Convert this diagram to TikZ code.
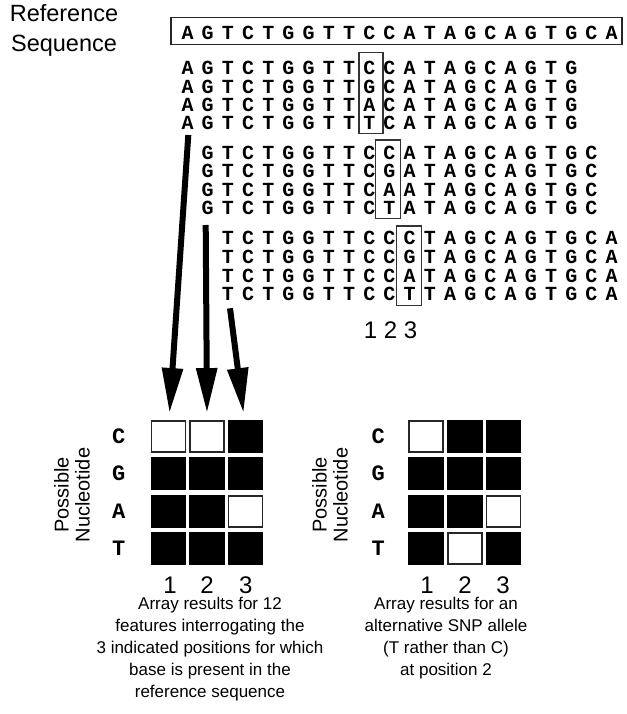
\documentclass[tikz,border=0pt]{standalone}
\usepackage{fontspec}
\setmainfont{Liberation Sans}
\newfontfamily\monob{Liberation Mono}
\usetikzlibrary{arrows.meta}
\newlength\dnap
\setlength\dnap{20.2pt}
\newcommand\dnaseq[1]{\dnaloop#1\relax}
\def\dnaloop#1{\ifx#1\relax\else\makebox[\dnap]{#1}\expandafter\dnaloop\fi}
\newcommand\seqfont{\monob\bfseries\fontsize{20}{20}\selectfont}
\newcommand\lblfont{\monob\bfseries\fontsize{22}{22}\selectfont}
\tikzset{
  seqrow/.style={inner sep=0pt, anchor=west, font=\seqfont},
  hlbox/.style={draw=black!80, line width=1.2pt, inner sep=0pt},
  cellb/.style={draw=black, fill=black, line width=1.5pt, minimum width=34pt, minimum height=31pt, inner sep=0pt},
  cellw/.style={draw=black!85, fill=white, line width=1.5pt, minimum width=34pt, minimum height=31pt, inner sep=0pt},
  rowlbl/.style={font=\lblfont, inner sep=0pt},
  numlbl/.style={font=\fontsize{24}{24}\selectfont, inner sep=0pt, anchor=base},
  caption/.style={font=\fontsize{17}{22}\selectfont, align=center, inner sep=0pt},
  bigarrow/.style={line width=6pt, -{Triangle[width=20pt,length=45pt]}},
}
\begin{document}
\begin{tikzpicture}[x=1pt,y=-1pt]
\useasboundingbox (0,0) rectangle (626,714);
% title
\node[font=\fontsize{23.5}{30}\selectfont, align=center, inner sep=0pt] (title) at (64,30.7) {Reference\\Sequence};
% reference sequence
\node[draw=black!85, line width=1.5pt, minimum width=451pt, minimum height=27pt, inner sep=0pt] (refbox) at (396.5,30.8) {};
\node[seqrow] (ref) at (177.2,32.7) {\dnaseq{AGTCTGGTTCCATAGCAGTGCA}};
% block 1
\node[seqrow] (b11) at (177.2,68.3) {\dnaseq{AGTCTGGTTCCATAGCAGTG}};
\node[seqrow] (b12) at (177.2,86.7) {\dnaseq{AGTCTGGTTGCATAGCAGTG}};
\node[seqrow] (b13) at (177.2,105) {\dnaseq{AGTCTGGTTACATAGCAGTG}};
\node[seqrow] (b14) at (177.2,123.3) {\dnaseq{AGTCTGGTTTCATAGCAGTG}};
\node[hlbox, minimum width=24pt, minimum height=80.6pt] (h1) at (371,93) {};
% block 2
\node[seqrow] (b21) at (197.4,152.7) {\dnaseq{GTCTGGTTCCATAGCAGTGC}};
\node[seqrow] (b22) at (197.4,171) {\dnaseq{GTCTGGTTCGATAGCAGTGC}};
\node[seqrow] (b23) at (197.4,190) {\dnaseq{GTCTGGTTCAATAGCAGTGC}};
\node[seqrow] (b24) at (197.4,208.3) {\dnaseq{GTCTGGTTCTATAGCAGTGC}};
\node[hlbox, minimum width=24.8pt, minimum height=78.3pt] (h2) at (388.1,179.2) {};
% block 3
\node[seqrow] (b31) at (217.6,238.3) {\dnaseq{TCTGGTTCCCTAGCAGTGCA}};
\node[seqrow] (b32) at (217.6,256.7) {\dnaseq{TCTGGTTCCGTAGCAGTGCA}};
\node[seqrow] (b33) at (217.6,275.7) {\dnaseq{TCTGGTTCCATAGCAGTGCA}};
\node[seqrow] (b34) at (217.6,294.3) {\dnaseq{TCTGGTTCCTTAGCAGTGCA}};
\node[hlbox, minimum width=25pt, minimum height=79.5pt] (h3) at (409.2,265.8) {};
\node[numlbl] (pos) at (390.5,338.6) {1 2 3};
% grid 1
\foreach \c/\x in {1/168.5,2/207,3/245.5}{
  \foreach \r/\y in {C/436.7,G/473.7,A/511.3,T/548.7}{
    \coordinate (g1\r\c) at (\x,\y);
  }
}
\node[cellw] (aC1) at (g1C1) {};
\node[cellw] (aC2) at (g1C2) {};
\node[cellb] (aC3) at (g1C3) {};
\node[cellb] (aG1) at (g1G1) {};
\node[cellb] (aG2) at (g1G2) {};
\node[cellb] (aG3) at (g1G3) {};
\node[cellb] (aA1) at (g1A1) {};
\node[cellb] (aA2) at (g1A2) {};
\node[cellw] (aA3) at (g1A3) {};
\node[cellb] (aT1) at (g1T1) {};
\node[cellb] (aT2) at (g1T2) {};
\node[cellb] (aT3) at (g1T3) {};
\node[rowlbl] (la1) at (118.8,436.7) {C};
\node[rowlbl] (la2) at (118.8,473.7) {G};
\node[rowlbl] (la3) at (118.8,511.3) {A};
\node[rowlbl] (la4) at (118.8,548.7) {T};
\node[numlbl] (na1) at (170,593.3) {1};
\node[numlbl] (na2) at (207,593.3) {2};
\node[numlbl] (na3) at (245.7,593.3) {3};
\node[font=\fontsize{20}{21}\selectfont, align=center, rotate=90, inner sep=0pt] (pa) at (72,495) {Possible\\Nucleotide};
\node[caption] (capa) at (210,649.5) {Array results for 12\\features interrogating the\\3 indicated positions for which\\base is present in the\\reference sequence};
% grid 2
\foreach \c/\x in {1/425.8,2/465,3/503.3}{
  \foreach \r/\y in {C/436.7,G/473.7,A/511.3,T/548.7}{
    \coordinate (g2\r\c) at (\x,\y);
  }
}
\node[cellw] (bC1) at (g2C1) {};
\node[cellb] (bC2) at (g2C2) {};
\node[cellb] (bC3) at (g2C3) {};
\node[cellb] (bG1) at (g2G1) {};
\node[cellb] (bG2) at (g2G2) {};
\node[cellb] (bG3) at (g2G3) {};
\node[cellb] (bA1) at (g2A1) {};
\node[cellb] (bA2) at (g2A2) {};
\node[cellw] (bA3) at (g2A3) {};
\node[cellb] (bT1) at (g2T1) {};
\node[cellw] (bT2) at (g2T2) {};
\node[cellb] (bT3) at (g2T3) {};
\node[rowlbl] (lb1) at (378.3,436.7) {C};
\node[rowlbl] (lb2) at (378.3,473.7) {G};
\node[rowlbl] (lb3) at (378.3,511.3) {A};
\node[rowlbl] (lb4) at (378.3,548.7) {T};
\node[numlbl] (nb1) at (427,593.3) {1};
\node[numlbl] (nb2) at (465,593.3) {2};
\node[numlbl] (nb3) at (503,593.3) {3};
\node[font=\fontsize{20}{21}\selectfont, align=center, rotate=90, inner sep=0pt] (pb) at (330,495) {Possible\\Nucleotide};
\node[caption] (capb) at (446,638.5) {Array results for an\\alternative SNP allele\\(T rather than C)\\at position 2};
% arrows
\coordinate (s1) at (188.3,135);
\coordinate (s2) at (205.7,225);
\coordinate (s3) at (230,308.3);
\draw[bigarrow] (s1) -- ([xshift=1pt,yshift=7.4pt]aC1.north);
\draw[bigarrow] (s2) -- ([yshift=7.4pt]aC2.north);
\draw[bigarrow] (s3) -- ([xshift=-2pt,yshift=7.4pt]aC3.north);
\end{tikzpicture}
\end{document}
